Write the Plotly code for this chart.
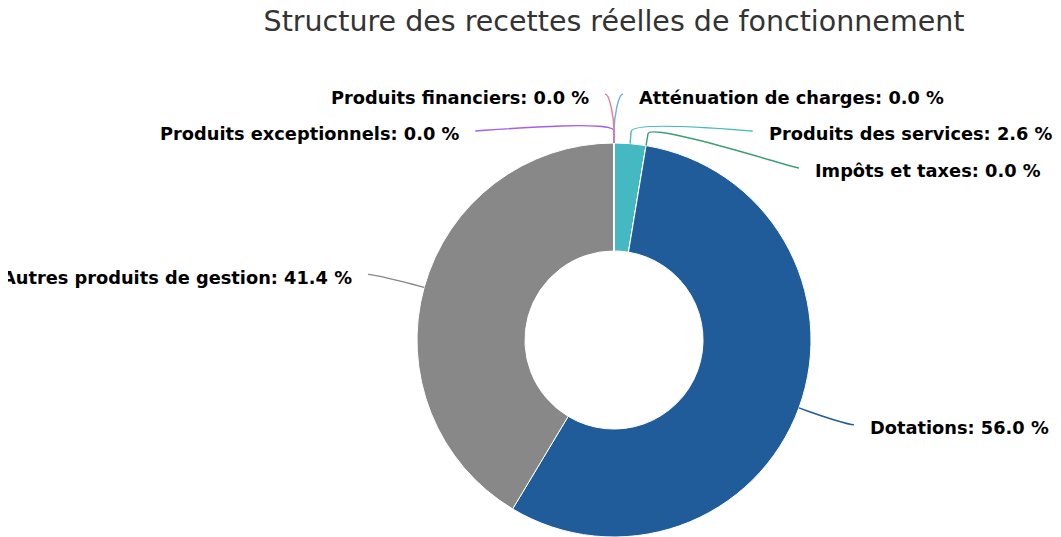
import math
import plotly.graph_objects as go

# ---- data ----
labels = ["Atténuation de charges", "Produits des services", "Impôts et taxes",
          "Dotations", "Autres produits de gestion", "Produits exceptionnels",
          "Produits financiers"]
values = [0.0, 2.6, 0.0, 56.0, 41.4, 0.0, 0.0]
colors = ["#6aaee8", "#44b9c1", "#3a9e70", "#1f5c99", "#888888", "#a45ff0", "#ef7c8e"]
title_text = "Structure des recettes réelles de fonctionnement"

# ---- layout constants (screen pixels) ----
W, H = 1061, 537
OFF = 8  # page body margin
CX, CY, R = 614, 340, 197
HOLE = 0.452
LABEL_R = 246
SPACING = 37
BREAK = 12
ANCHOR_PAD = 9
TEXT_GAP = 14
TEXT_DY = 3
FONT = "DejaVu Sans"


def px(x):
    return (x - OFF) / W


def py(y):
    return 1 - (y - OFF) / H


total = sum(values)
cum = 0.0
mids = []
for v in values:
    mids.append((cum + v / 2) / total * 2 * math.pi)
    cum += v

right = [i for i, m in enumerate(mids) if m < math.pi]
left = [i for i, m in enumerate(mids) if m >= math.pi]
natural = [CY - LABEL_R * math.cos(m) for m in mids]

label_y = {}
for side, key in ((right, lambda i: (natural[i], i)), (left, lambda i: (natural[i], -i))):
    prev = None
    for i in sorted(side, key=key):
        y = natural[i] if prev is None else max(natural[i], prev + SPACING)
        label_y[i] = y
        prev = y

fig = go.Figure(go.Pie(
    labels=labels, values=values, sort=False, direction="clockwise", rotation=0,
    hole=HOLE, textinfo="none", showlegend=False,
    marker=dict(colors=colors, line=dict(color="white", width=1)),
    domain=dict(x=[px(CX - R), px(CX + R)], y=[py(CY + R), py(CY - R)]),
))

annotations = []
shapes = []
for i, lab in enumerate(labels):
    m = mids[i]
    y = label_y[i]
    dx = math.sqrt(max(0.0, LABEL_R ** 2 - (y - CY) ** 2))
    is_right = i in right
    sgn = 1 if is_right else -1
    ax = CX + sgn * (dx + ANCHOR_PAD)
    tx, ty = CX + R * math.sin(m), CY - R * math.cos(m)
    bx, by = CX + (R + BREAK) * math.sin(m), CY - (R + BREAK) * math.cos(m)
    c1x = ax - 5 * sgn
    c2x, c2y = 2 * bx - tx, 2 * by - ty
    path = (f"M {px(ax)},{py(y)} C {px(c1x)},{py(y)} {px(c2x)},{py(c2y)} {px(bx)},{py(by)} "
            f"L {px(tx)},{py(ty)}")
    shapes.append(dict(type="path", path=path, xref="paper", yref="paper",
                       line=dict(color=colors[i], width=1.4)))
    annotations.append(dict(
        x=px(ax + sgn * TEXT_GAP), y=py(y + TEXT_DY), xref="paper", yref="paper",
        text=f"{lab}: {values[i]:.1f} %", showarrow=False,
        xanchor="left" if is_right else "right", yanchor="middle",
        font=dict(family=FONT, size=17.8, color="#000000", weight="bold"),
    ))

fig.update_layout(
    width=W, height=H, autosize=False,
    margin=dict(l=0, r=0, t=0, b=0),
    paper_bgcolor="white", plot_bgcolor="white",
    title=dict(text=title_text, x=px(CX), xanchor="center", y=py(21), yanchor="middle",
               font=dict(family=FONT, size=28.5, color="#333333")),
    annotations=annotations, shapes=shapes,
)

fig.write_html("out.html")
